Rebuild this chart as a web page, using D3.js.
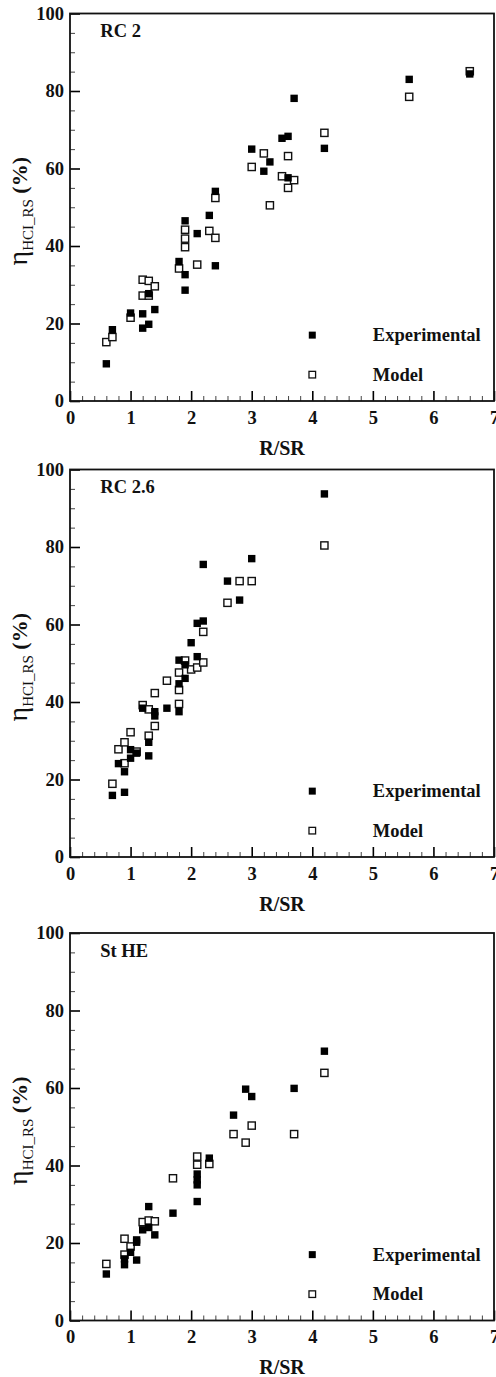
<!DOCTYPE html>
<html>
<head>
<meta charset="utf-8">
<script src="https://cdn.jsdelivr.net/npm/d3@7"></script>
<style>
    body { margin: 0; background: #fff; }
    svg { display: block; font-family: "Liberation Serif", "Times New Roman", serif; }
</style>
</head>
<body>
<div id="chart"></div>
<script>
// data, [R/SR, eta %]
const rc2Experimental = [[0.6, 9.6], [0.7, 18.4], [1.0, 22.7], [1.2, 22.5], [1.2, 18.8], [1.3, 19.8], [1.3, 27.7], [1.4, 23.6],
    [1.8, 36.0], [1.9, 32.6], [1.9, 28.6], [1.9, 46.5], [2.1, 43.2], [2.3, 47.9], [2.4, 54.1], [2.4, 34.9],
    [3.0, 65.0], [3.2, 59.3], [3.3, 61.7], [3.5, 67.8], [3.6, 68.3], [3.7, 78.1], [3.6, 57.6], [4.2, 65.2],
    [5.6, 83.0], [6.6, 84.4]];
const rc2Model = [[0.6, 15.2], [0.7, 16.5], [1.0, 21.5], [1.2, 31.3], [1.3, 31.0], [1.2, 27.2], [1.3, 27.2], [1.4, 29.6],
    [1.8, 34.2], [1.9, 44.2], [1.9, 41.9], [1.9, 39.7], [2.1, 35.2], [2.3, 43.9], [2.4, 42.1], [2.4, 52.4],
    [3.0, 60.4], [3.2, 63.9], [3.3, 50.5], [3.5, 58.0], [3.6, 63.2], [3.6, 55.0], [3.7, 57.0], [4.2, 69.2],
    [5.6, 78.5], [6.6, 85.1]];

const rc26Experimental = [[0.7, 15.9], [0.9, 16.7], [0.8, 24.1], [0.9, 22.0], [1.0, 25.5], [1.0, 27.7], [1.1, 26.8],
    [1.3, 26.1], [1.3, 29.6], [1.2, 38.4], [1.4, 37.5], [1.4, 36.4], [1.6, 38.4], [1.8, 37.5], [1.8, 44.7],
    [1.9, 46.1], [1.8, 50.8], [1.9, 49.6], [2.0, 55.3], [2.1, 51.7], [2.1, 60.3], [2.2, 60.9], [2.2, 75.5],
    [2.6, 71.2], [2.8, 66.3], [3.0, 77.0], [4.2, 93.7]];
const rc26Model = [[0.7, 18.9], [0.8, 27.8], [0.9, 29.6], [0.9, 24.2], [1.0, 32.2], [1.1, 27.2], [1.2, 39.2],
    [1.3, 38.1], [1.3, 31.3], [1.4, 42.3], [1.4, 33.8], [1.6, 45.5], [1.8, 39.5], [1.8, 43.1], [1.8, 47.6],
    [1.9, 50.7], [2.0, 48.4], [2.1, 48.9], [2.2, 50.2], [2.2, 58.1], [2.6, 65.6], [2.8, 71.2], [3.0, 71.2],
    [4.2, 80.4]];

const stheExperimental = [[0.6, 12.0], [0.9, 14.4], [0.9, 15.9], [1.0, 17.6], [1.1, 15.6], [1.1, 20.2], [1.1, 20.8],
    [1.2, 23.4], [1.3, 24.0], [1.3, 29.4], [1.4, 22.1], [1.7, 27.7], [2.1, 30.7], [2.1, 35.0], [2.1, 36.3],
    [2.1, 37.8], [2.3, 41.9], [2.7, 53.0], [2.9, 59.7], [3.0, 57.8], [3.7, 59.9], [4.2, 69.5]];
const stheModel = [[0.6, 14.6], [0.9, 21.1], [0.9, 17.0], [1.0, 19.1], [1.2, 25.4], [1.3, 25.8], [1.4, 25.6],
    [1.7, 36.7], [2.1, 42.3], [2.1, 40.2], [2.3, 40.4], [2.7, 48.1], [2.9, 45.9], [3.0, 50.3], [3.7, 48.1],
    [4.2, 63.9]];

const panelTitles = ['RC 2', 'RC 2.6', 'St HE'];
const legendLabels = ['Experimental', 'Model'];
const xTicks = [0, 1, 2, 3, 4, 5, 6, 7];
const yTicks = [0, 20, 40, 60, 80, 100];

const panels = [
    { title: panelTitles[0], exp: rc2Experimental, model: rc2Model, top: 13.5 },
    { title: panelTitles[1], exp: rc26Experimental, model: rc26Model, top: 469.5 },
    { title: panelTitles[2], exp: stheExperimental, model: stheModel, top: 933 }
];

const width = 496, height = 1377;
const left = 70, right = 494, plotH = 387.5;
const serif = '"Liberation Serif", "Times New Roman", serif';

const svg = d3.select('#chart')
    .append('svg')
    .attr('width', width)
    .attr('height', height);

const x = d3.scaleLinear().domain([0, 7]).range([left, right]);
const y = d3.scaleLinear().domain([0, 100]).range([plotH, 0]);

const xMinor = d3.range(0, 7.01, 0.2).filter(v => Math.abs(v - Math.round(v)) > 0.01);
const yMinor = d3.range(0, 101, 5).filter(v => v % 20 !== 0);

function styleLabels(a) {
    a.attr('font-family', serif).attr('font-size', 18.5).attr('font-weight', 'bold');
    a.selectAll('text').attr('fill', '#111');
}

panels.forEach(p => {
    const g = svg.append('g').attr('transform', `translate(0, ${p.top})`);

    // minor ticks first, inward
    g.append('g')
        .attr('transform', `translate(0, ${plotH})`)
        .call(d3.axisBottom(x).tickValues(xMinor).tickSize(-5).tickFormat(''))
        .call(a => a.select('.domain').remove())
        .call(a => a.selectAll('line').attr('stroke', '#444').attr('stroke-width', 1));
    g.append('g')
        .attr('transform', `translate(${left}, 0)`)
        .call(d3.axisLeft(y).tickValues(yMinor).tickSize(-5).tickFormat(''))
        .call(a => a.select('.domain').remove())
        .call(a => a.selectAll('line').attr('stroke', '#444').attr('stroke-width', 1));

    // major ticks with labels
    g.append('g')
        .attr('transform', `translate(0, ${plotH})`)
        .call(d3.axisBottom(x).tickValues(xTicks).tickSize(-10).tickPadding(9.5).tickFormat(d3.format('d')))
        .call(a => a.select('.domain').remove())
        .call(a => a.selectAll('line').attr('stroke', '#000').attr('stroke-width', 1.6))
        .call(styleLabels);
    g.append('g')
        .attr('transform', `translate(${left}, 0)`)
        .call(d3.axisLeft(y).tickValues(yTicks).tickSize(-10).tickPadding(6))
        .call(a => a.select('.domain').remove())
        .call(a => a.selectAll('line').attr('stroke', '#000').attr('stroke-width', 1.6))
        .call(styleLabels);

    // frame
    g.append('rect')
        .attr('x', left)
        .attr('y', 0)
        .attr('width', right - left)
        .attr('height', plotH)
        .attr('fill', 'none')
        .attr('stroke', '#111')
        .attr('stroke-width', 1.8);

    // points
    g.append('g').selectAll('rect')
        .data(p.model)
        .join('rect')
        .attr('x', d => x(d[0]) - 3.6)
        .attr('y', d => y(d[1]) - 3.6)
        .attr('width', 7.2)
        .attr('height', 7.2)
        .attr('fill', '#fff')
        .attr('stroke', '#111')
        .attr('stroke-width', 1.4);
    g.append('g').selectAll('rect')
        .data(p.exp)
        .join('rect')
        .attr('x', d => x(d[0]) - 3.7)
        .attr('y', d => y(d[1]) - 3.7)
        .attr('width', 7.4)
        .attr('height', 7.4)
        .attr('fill', '#000');

    // title
    g.append('text')
        .attr('x', x(0.5))
        .attr('y', 23.5)
        .attr('font-size', 18.5)
        .attr('font-weight', 'bold')
        .attr('fill', '#111')
        .text(p.title);

    // legend, placed in data space like the original
    const legendY = [17, 6.8];
    g.append('rect')
        .attr('x', x(4) - 3.5).attr('y', y(legendY[0]) - 3.5)
        .attr('width', 7).attr('height', 7)
        .attr('fill', '#000');
    g.append('rect')
        .attr('x', x(4) - 3.3).attr('y', y(legendY[1]) - 3.3)
        .attr('width', 6.6).attr('height', 6.6)
        .attr('fill', '#fff').attr('stroke', '#111').attr('stroke-width', 1.3);
    legendLabels.forEach((lab, i) => {
        g.append('text')
            .attr('x', x(5))
            .attr('y', y(legendY[i]) + 6)
            .attr('font-size', 18.5)
            .attr('font-weight', 'bold')
            .attr('fill', '#111')
            .text(lab);
    });

    // x axis title
    g.append('text')
        .attr('x', (left + right) / 2)
        .attr('y', plotH + 53.5)
        .attr('text-anchor', 'middle')
        .attr('font-size', 20)
        .attr('font-weight', 'bold')
        .attr('fill', '#111')
        .text('R/SR');

    // y axis title, rotated
    const yl = g.append('text')
        .attr('transform', `translate(27, ${plotH / 2 + 4}) rotate(-90)`)
        .attr('text-anchor', 'middle')
        .attr('fill', '#111');
    yl.append('tspan').attr('font-size', 28).text('η');
    yl.append('tspan').attr('font-size', 15).attr('dy', 6).text('HCI_RS');
    yl.append('tspan').attr('font-size', 22).attr('font-weight', 'bold').attr('dy', -6).text(' (%)');
});
</script>
</body>
</html>
